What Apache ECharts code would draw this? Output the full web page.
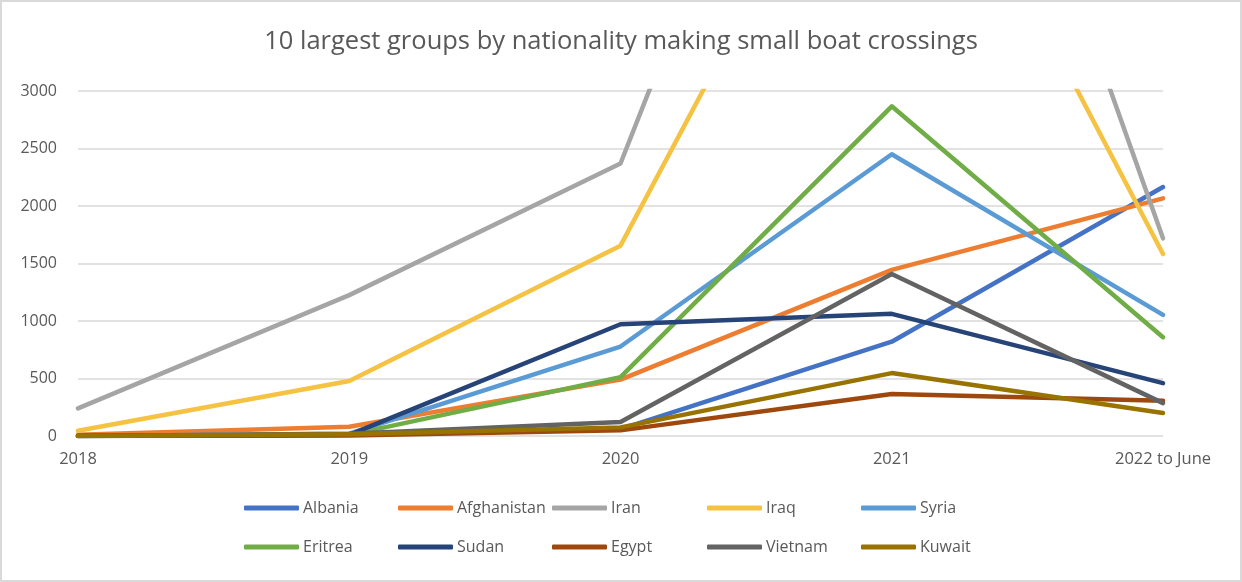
<!DOCTYPE html>
<html>
<head>
<meta charset="utf-8">
<script src="https://cdn.jsdelivr.net/npm/echarts@6/dist/echarts.min.js"></script>
<style>
  html, body { margin: 0; padding: 0; background: #fff; }
  #main { width: 1242px; height: 582px; box-sizing: border-box; border: 2px solid #d9d9d9; }
</style>
</head>
<body>
<div id="main"></div>
<script>
// years on the x axis
var years = ['2018', '2019', '2020', '2021', '2022 to June'];
var yTicks = [0, 500, 1000, 1500, 2000, 2500, 3000];

// values (Iran / Iraq 2021 run off the top)
var albania     = [0, 10, 60, 820, 2165];
var afghanistan = [10, 80, 490, 1444, 2066];
var iran        = [240, 1225, 2370, 8360, 1719];
var iraq        = [45, 478, 1655, 6090, 1582];
var syria       = [0, 20, 778, 2450, 1053];
var eritrea     = [0, 10, 512, 2867, 859];
var sudan       = [0, 10, 972, 1062, 460];
var egypt       = [0, 5, 49, 365, 306];
var vietnam     = [0, 20, 121, 1409, 286];
var kuwait      = [0, 15, 75, 547, 200];

var names = ['Albania', 'Afghanistan', 'Iran', 'Iraq', 'Syria',
             'Eritrea', 'Sudan', 'Egypt', 'Vietnam', 'Kuwait'];
var values = [albania, afghanistan, iran, iraq, syria,
              eritrea, sudan, egypt, vietnam, kuwait];
var colors = ['#4472C4', '#ED7D31', '#A5A5A5', '#F5C242', '#5B9BD5',
              '#70AD47', '#264478', '#9E480E', '#636363', '#997300'];

var font = '"Open Sans", "Noto Sans", sans-serif';

var chart = echarts.init(document.getElementById('main'));

var series = names.map(function (n, i) {
  return {
    name: n,
    type: 'line',
    data: values[i],
    symbol: 'none',
    clip: true,
    lineStyle: { width: 4.5, color: colors[i], cap: 'round', join: 'round' },
    itemStyle: { color: colors[i] },
    z: 2 + i
  };
});

// legend laid out as a 5 x 2 table, like the Excel original
var legendCols = [237, 391, 545, 700, 854];
var legendRows = [493, 532];
var legends = names.map(function (n, i) {
  return {
    data: [n],
    icon: 'roundRect',
    left: legendCols[i % 5],
    top: legendRows[Math.floor(i / 5)],
    itemWidth: 55,
    itemHeight: 5,
    itemGap: 0,
    selectedMode: false,
    textStyle: { fontFamily: font, fontSize: 16, color: '#595959', padding: [0, 0, 0, -1] }
  };
});

chart.setOption({
  animation: false,
  color: colors,
  title: {
    text: '10 largest groups by nationality making small boat crossings',
    left: 'center',
    top: 22,
    textStyle: { fontFamily: font, fontSize: 25.5, fontWeight: 'normal', color: '#595959' }
  },
  legend: legends,
  grid: { left: 76, right: 77, top: 89, bottom: 144 },
  xAxis: {
    type: 'category',
    boundaryGap: false,
    data: years,
    axisLine: { show: false },
    axisTick: { show: false },
    axisLabel: { fontFamily: font, fontSize: 16.5, color: '#595959', margin: 15 }
  },
  yAxis: {
    type: 'value',
    min: yTicks[0],
    max: yTicks[yTicks.length - 1],
    interval: 500,
    axisLine: { show: false },
    axisTick: { show: false },
    axisLabel: {
      fontFamily: font, fontSize: 16, color: '#595959', margin: 21,
      formatter: function (v) { return String(v); }
    },
    splitLine: { lineStyle: { color: '#d9d9d9', width: 1.5 } }
  },
  series: series
});
</script>
</body>
</html>
